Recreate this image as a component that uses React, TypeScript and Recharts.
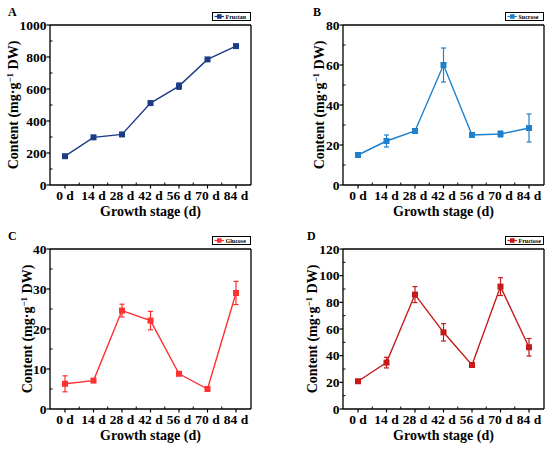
import React from 'react';
import { LineChart, Line, XAxis, YAxis, ErrorBar, Legend, Label, CartesianGrid } from 'recharts';

const stages = ['0 d', '14 d', '28 d', '42 d', '56 d', '70 d', '84 d'];

const fructan = [180, 298, 316, 512, 618, 785, 868];
const fructanErr = [8, 10, 10, 12, 20, 10, 8];
const fructanTicks = [0, 200, 400, 600, 800, 1000];
const fructanMinor = [100, 300, 500, 700, 900];

const sucrose = [15, 22, 27, 60, 25, 25.5, 28.5];
const sucroseErr = [0.8, 3, 1.2, 8.5, 0.8, 1.5, 7];
const sucroseTicks = [0, 20, 40, 60, 80];
const sucroseMinor = [10, 30, 50, 70];

const glucose = [6.3, 7.1, 24.6, 22.1, 8.8, 5, 29];
const glucoseErr = [2, 0.4, 1.6, 2.3, 0.4, 0.3, 2.9];
const glucoseTicks = [0, 10, 20, 30, 40];
const glucoseMinor = [5, 15, 25, 35];

const fructose = [20.8, 34.8, 85.8, 57.5, 33, 91.8, 46.3];
const fructoseErr = [1, 4, 6, 6.5, 1, 6.7, 6.6];
const fructoseTicks = [0, 20, 40, 60, 80, 100, 120];
const fructoseMinor = [10, 30, 50, 70, 90, 110];

const FONT = '"Liberation Serif", "Times New Roman", serif';
const CW = 257;
const CH = 225;
const YW = 50;
const XH = 40;
const MT = 25;
const MR = 6;
const PAD = 15;
const TICK = 4;
const TM = 3;
const PLOT_W = CW - YW - MR;
const STEP = (PLOT_W - 2 * PAD) / (stages.length - 1);

type PanelProps = {
  letter: string;
  name: string;
  color: string;
  values: number[];
  errors: number[];
  majors: number[];
  minors: number[];
  left: number;
  top: number;
  yLabelX: number;
  letterX: number;
};

const topLine = (args: any) => {
  const o = args.offset || {};
  return [o.top ?? MT];
};
const rightLine = (args: any) => {
  const o = args.offset || {};
  return [(o.left ?? YW) + (o.width ?? PLOT_W)];
};

function Panel(p: PanelProps) {
  const data = stages.map((s, i) => ({ stage: s, value: p.values[i], err: p.errors[i] }));
  const max = p.majors[p.majors.length - 1];
  const allTicks = [...p.majors, ...p.minors].sort((a, b) => a - b);

  const YTick = (props: any) => {
    const { x, y, payload } = props;
    const ax = x + TICK + TM;
    const isMajor = p.majors.includes(payload.value);
    if (!isMajor) {
      return <line x1={ax} x2={ax + 2.5} y1={y} y2={y} stroke="#000" strokeWidth={1} />;
    }
    return (
      <g>
        <line x1={ax - 3.5} x2={ax} y1={y} y2={y} stroke="#000" strokeWidth={1.2} />
        <text x={ax - 3.5} y={y} dy="0.35em" textAnchor="end" fontFamily={FONT} fontWeight="bold" fontSize={13.5} fill="#000">
          {payload.value}
        </text>
      </g>
    );
  };

  const XTick = (props: any) => {
    const { x, y, payload, index } = props;
    const ay = y - TICK - TM;
    return (
      <g>
        <line x1={x} x2={x} y1={ay} y2={ay + 3.5} stroke="#000" strokeWidth={1.2} />
        {index < stages.length - 1 && (
          <line x1={x + STEP / 2} x2={x + STEP / 2} y1={ay} y2={ay - 2.5} stroke="#000" strokeWidth={1} />
        )}
        <text x={x} y={ay + 15} textAnchor="middle" fontFamily={FONT} fontWeight="bold" fontSize={13.5} fill="#000">
          {payload.value}
        </text>
      </g>
    );
  };

  const YLabel = (props: any) => {
    const vb = props.viewBox || { x: 0, y: MT, width: YW, height: CH - MT - XH };
    const cy = vb.y + vb.height / 2;
    const cx = p.yLabelX;
    return (
      <text
        x={cx}
        y={cy}
        transform={`rotate(-90 ${cx} ${cy})`}
        textAnchor="middle"
        dy="0.35em"
        fontFamily={FONT}
        fontWeight="bold"
        fontSize={14}
        fill="#000"
      >
        <tspan>Content (mg·g</tspan>
        <tspan dy={-5} fontSize={9}>−1</tspan>
        <tspan dy={5}> DW)</tspan>
      </text>
    );
  };

  const XLabel = (props: any) => {
    const vb = props.viewBox;
    const cx = vb.x + vb.width / 2;
    return (
      <text x={cx} y={vb.y + 31} textAnchor="middle" fontFamily={FONT} fontWeight="bold" fontSize={14} fill="#000">
        Growth stage (d)
      </text>
    );
  };

  const LegendBox = (props: any) => {
    const item = props.payload && props.payload[0];
    const label = item ? item.value : p.name;
    return (
      <div
        style={{
          width: 39,
          height: 9,
          boxSizing: 'border-box',
          border: '1px solid #000',
          background: '#fff',
        }}
      >
        <svg width={37} height={7} style={{ display: 'block' }}>
          <line x1={1.5} x2={11} y1={3.5} y2={3.5} stroke={p.color} strokeWidth={1.2} />
          <rect x={4} y={1.2} width={4.6} height={4.6} fill={p.color} />
          <text x={12.5} y={5.6} fontFamily={FONT} fontWeight="bold" fontSize={6} fill="#000">
            {label}
          </text>
        </svg>
      </div>
    );
  };

  const Dot = (props: any) => {
    const { cx, cy, index } = props;
    if (cx == null || cy == null) return <g key={`d${index}`} />;
    return <rect key={`d${index}`} x={cx - 3} y={cy - 3} width={6} height={6} fill={p.color} />;
  };

  return (
    <div style={{ position: 'absolute', left: p.left, top: p.top, width: CW, height: CH }}>
      <LineChart width={CW} height={CH} data={data} margin={{ top: MT, right: MR, bottom: 0, left: 0 }}>
        <CartesianGrid
          stroke="#000"
          strokeWidth={1.3}
          horizontalCoordinatesGenerator={topLine}
          verticalCoordinatesGenerator={rightLine}
        />
        <XAxis
          dataKey="stage"
          height={XH}
          padding={{ left: PAD, right: PAD }}
          interval={0}
          tickSize={TICK}
          tickMargin={TM}
          tickLine={false}
          axisLine={{ stroke: '#000', strokeWidth: 1.3 }}
          tick={<XTick />}
        >
          <Label content={<XLabel />} />
        </XAxis>
        <YAxis
          type="number"
          domain={[0, max]}
          ticks={allTicks}
          interval={0}
          width={YW}
          tickSize={TICK}
          tickMargin={TM}
          tickLine={false}
          axisLine={{ stroke: '#000', strokeWidth: 1.3 }}
          tick={<YTick />}
        >
          <Label content={<YLabel />} />
        </YAxis>
        <Legend
          layout="vertical"
          align="center"
          verticalAlign="middle"
          wrapperStyle={{ left: YW + PLOT_W - 39, top: MT - 13, width: 39, height: 9 }}
          content={<LegendBox />}
        />
        <Line
          type="linear"
          dataKey="value"
          name={p.name}
          stroke={p.color}
          strokeWidth={1.4}
          dot={Dot}
          activeDot={false}
          isAnimationActive={false}
        >
          <ErrorBar dataKey="err" width={2.5} stroke={p.color} strokeWidth={1.2} direction="y" />
        </Line>
      </LineChart>
      <svg width={30} height={20} style={{ position: 'absolute', left: 0, top: 0, overflow: 'visible' }}>
        <text x={p.letterX} y={16} fontFamily={FONT} fontWeight="bold" fontSize={12} fill="#000">
          {p.letter}
        </text>
      </svg>
    </div>
  );
}

export default function App() {
  return (
    <div
      style={{
        position: 'absolute',
        left: 0,
        top: 0,
        width: 550,
        height: 450,
        overflow: 'hidden',
        background: '#fff',
      }}
    >
      <Panel letter="A" name="Fructan" color="#1B3C86" values={fructan} errors={fructanErr}
        majors={fructanTicks} minors={fructanMinor} left={0} top={0} yLabelX={13} letterX={8} />
      <Panel letter="B" name="Sucrose" color="#1F80CC" values={sucrose} errors={sucroseErr}
        majors={sucroseTicks} minors={sucroseMinor} left={293} top={0} yLabelX={26} letterX={20} />
      <Panel letter="C" name="Glucose" color="#FF3030" values={glucose} errors={glucoseErr}
        majors={glucoseTicks} minors={glucoseMinor} left={0} top={224} yLabelX={27} letterX={8} />
      <Panel letter="D" name="Fructose" color="#C41A1A" values={fructose} errors={fructoseErr}
        majors={fructoseTicks} minors={fructoseMinor} left={293} top={224} yLabelX={19} letterX={14} />
    </div>
  );
}
